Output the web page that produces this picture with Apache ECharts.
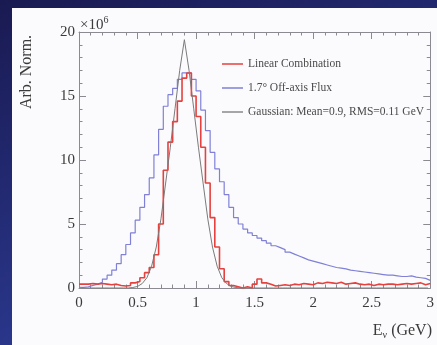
<!DOCTYPE html>
<html>
<head>
<meta charset="utf-8">
<script src="https://cdn.jsdelivr.net/npm/echarts@6/dist/echarts.min.js"></script>
<style>
  html, body { margin: 0; padding: 0; }
  #chart { width: 437px; height: 345px; }
</style>
</head>
<body>
<div id="chart"></div>
<script>
// Neutrino energy spectra, 0.04 GeV bins from 0 to 3 GeV (values in units of 1e6)
const BIN_WIDTH = 0.04;
const X_TICKS = ['0', '0.5', '1', '1.5', '2', '2.5', '3'];
const Y_TICKS = ['0', '5', '10', '15', '20'];
const LEGEND_NAMES = ['Linear Combination', '1.7\u00b0 Off-axis Flux', 'Gaussian: Mean=0.9, RMS=0.11 GeV'];

// 1.7 degree off-axis flux
const offAxisFlux = [
  0.05, 0.1, 0.2, 0.3, 0.45, 0.7, 1.0, 1.4, 1.9, 2.6,
  3.4, 4.3, 5.3, 6.3, 7.3, 8.6, 10.4, 12.4, 14.2, 15.1,
  15.6, 16.3, 16.8, 16.8, 16.3, 15.4, 13.9, 12.3, 10.6, 9.3,
  8.3, 7.3, 6.3, 5.5, 5.0, 4.6, 4.3, 4.1, 3.9, 3.7,
  3.5, 3.3, 3.15, 3.0, 2.8, 2.65, 2.5, 2.35, 2.2, 2.1,
  2.0, 1.9, 1.8, 1.7, 1.6, 1.55, 1.5, 1.4, 1.35, 1.3,
  1.25, 1.2, 1.15, 1.1, 1.05, 1.0, 1.0, 0.95, 0.9, 0.9,
  0.95, 0.85, 0.8, 0.75, 0.6
];

// Linear combination of fluxes
const linearCombination = [
  0.3, 0.3, 0.35, 0.3, 0.35, 0.3, 0.25, 0.3, 0.2, 0.15,
  0.2, 0.4, 0.5, 0.8, 1.2, 1.6, 2.6, 5.0, 9.2, 11.4,
  13.0, 14.6, 16.4, 16.8, 15.0, 13.4, 11.0, 8.2, 5.5, 3.2,
  1.5, 0.5, 0.2, 0.1, 0.0, 0.1, 0.0, 0.3, 0.7, 0.4,
  0.3, 0.15, 0.2, 0.25, 0.2, 0.3, 0.25, 0.35, 0.3, 0.25,
  0.4, 0.35, 0.45, 0.4, 0.35, 0.45, 0.3, 0.35, 0.4, 0.3,
  0.25, 0.3, 0.2, 0.3, 0.25, 0.3, 0.3, 0.25, 0.3, 0.35,
  0.3, 0.35, 0.4, 0.25, 0.35
];

// Gaussian target spectrum, sampled at bin centres
const gaussianTarget = [
  0, 0, 0, 0, 0, 0, 0, 0, 0, 0,
  0, 0.04, 0.12, 0.35, 0.8, 1.7, 3.2, 5.4, 8.2, 11.0,
  14.0, 17.0, 19.4, 17.0, 14.0, 11.0, 8.2, 5.4, 3.2, 1.7,
  0.8, 0.35, 0.12, 0.04, 0, 0, 0, 0, 0, 0,
  0, 0, 0, 0, 0, 0, 0, 0, 0, 0,
  0, 0, 0, 0, 0, 0, 0, 0, 0, 0,
  0, 0, 0, 0, 0, 0, 0, 0, 0, 0,
  0, 0, 0, 0, 0
];

// histogram outline: left edge of each bin, plus closing edge at the end
function histPoints(values) {
  const pts = values.map((v, i) => [+(i * BIN_WIDTH).toFixed(4), v]);
  pts.push([+(values.length * BIN_WIDTH).toFixed(4), values[values.length - 1]]);
  return pts;
}
function centrePoints(values) {
  return values.map((v, i) => [+((i + 0.5) * BIN_WIDTH).toFixed(4), v]);
}

const SERIF = '"Liberation Serif", "DejaVu Serif", serif';
const FRAME = '#8a8a90';
const TEXT = '#3a3a3a';

const chart = echarts.init(document.getElementById('chart'));

function xAxisCfg(pos, labels) {
  return {
    type: 'value', position: pos, min: 0, max: 3, interval: 0.5,
    axisLine: { show: true, onZero: false, lineStyle: { color: FRAME, width: 1 } },
    axisTick: { show: true, inside: true, length: 7, lineStyle: { color: FRAME } },
    minorTick: { show: true, splitNumber: 5, length: 3.5, lineStyle: { color: FRAME } },
    splitLine: { show: false },
    axisLabel: labels ? {
      show: true, margin: 8, color: TEXT, fontFamily: SERIF, fontSize: 15,
      formatter: v => X_TICKS[Math.round(v / 0.5)]
    } : { show: false }
  };
}
function yAxisCfg(pos, labels) {
  return {
    type: 'value', position: pos, min: 0, max: 20, interval: 5,
    axisLine: { show: true, onZero: false, lineStyle: { color: FRAME, width: 1 } },
    axisTick: { show: true, inside: true, length: 7, lineStyle: { color: FRAME } },
    minorTick: { show: true, splitNumber: 5, length: 3.5, lineStyle: { color: FRAME } },
    splitLine: { show: false },
    axisLabel: labels ? {
      show: true, margin: 4, color: TEXT, fontFamily: SERIF, fontSize: 15,
      formatter: v => Y_TICKS[Math.round(v / 5)]
    } : { show: false }
  };
}

chart.setOption({
  animation: false,
  backgroundColor: {
    type: 'linear', x: 0, y: 0, x2: 0.3, y2: 1,
    colorStops: [
      { offset: 0, color: '#1a1a52' },
      { offset: 1, color: '#2b3a92' }
    ]
  },
  graphic: [
    {
      type: 'rect', z: -10, silent: true,
      shape: { x: 12, y: 8, width: 425, height: 337 },
      style: { fill: '#fbfbfd' }
    },
    {
      type: 'text', x: 27, y: 72, rotation: Math.PI / 2,
      style: {
        text: 'Arb. Norm.', fill: TEXT, font: '16px ' + SERIF,
        align: 'center', verticalAlign: 'middle'
      }
    },
    {
      type: 'text', x: 80, y: 25,
      style: {
        text: '{m|\u00d710}{p|6}', fill: TEXT, verticalAlign: 'middle',
        rich: {
          m: { fontFamily: SERIF, fontSize: 15, fill: TEXT },
          p: { fontFamily: SERIF, fontSize: 10, fill: TEXT, padding: [0, 0, 10, 0] }
        }
      }
    },
    {
      type: 'text', x: 432, y: 331,
      style: {
        text: '{e|E}{s|\u03bd}{t| (GeV)}', fill: TEXT, align: 'right', verticalAlign: 'middle',
        rich: {
          e: { fontFamily: SERIF, fontSize: 16, fill: TEXT },
          s: { fontFamily: SERIF, fontSize: 10, fill: TEXT, padding: [8, 0, 0, 0] },
          t: { fontFamily: SERIF, fontSize: 16, fill: TEXT }
        }
      }
    }
  ],
  grid: { left: 79, right: 4, top: 32, bottom: 57, containLabel: false },
  legend: {
    orient: 'vertical', left: 217, top: 53, itemGap: 12,
    icon: 'rect', itemWidth: 21, itemHeight: 1.5,
    textStyle: { color: '#4a4a4a', fontFamily: SERIF, fontSize: 11.5 },
    data: LEGEND_NAMES
  },
  xAxis: [xAxisCfg('bottom', true), xAxisCfg('top', false)],
  yAxis: [yAxisCfg('left', true), yAxisCfg('right', false)],
  series: [
    {
      name: LEGEND_NAMES[1], type: 'line', step: 'end', symbol: 'none',
      data: histPoints(offAxisFlux), z: 2,
      itemStyle: { color: '#7f80d6' },
      lineStyle: { color: '#7f80d6', width: 1.2 }
    },
    {
      name: LEGEND_NAMES[0], type: 'line', step: 'end', symbol: 'none',
      data: histPoints(linearCombination), z: 3,
      itemStyle: { color: '#e5413e' },
      lineStyle: { color: '#e5413e', width: 1.6 }
    },
    {
      name: LEGEND_NAMES[2], type: 'line', symbol: 'none',
      data: centrePoints(gaussianTarget), z: 4,
      itemStyle: { color: '#8a8a8a' },
      lineStyle: { color: '#7a7a7a', width: 1 }
    }
  ]
});
</script>
</body>
</html>
